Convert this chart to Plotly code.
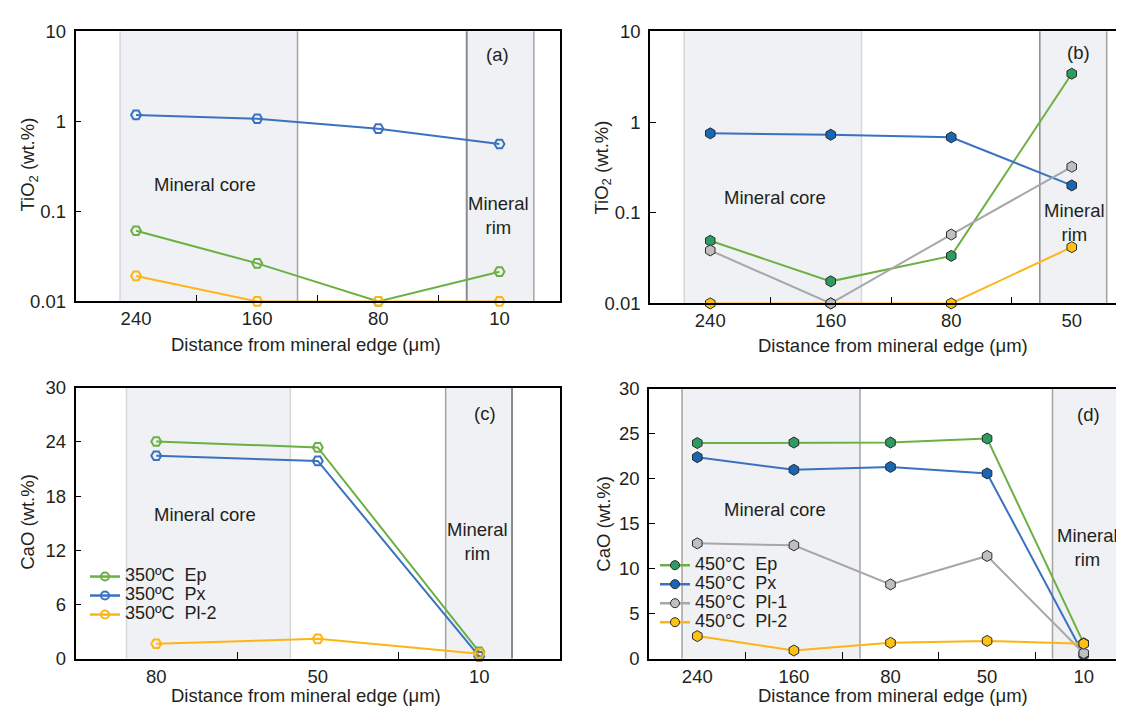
import plotly.graph_objects as go

# ---------------- data ----------------
cats_a = ["240", "160", "80", "10"]
a_ep = [0.061, 0.0265, 0.0100, 0.0214]
a_px = [1.18, 1.07, 0.83, 0.56]
a_pl2 = [0.0192, 0.0100, 0.0100, 0.0100]

cats_b = ["240", "160", "80", "50"]
b_ep = [0.049, 0.0175, 0.0334, 3.41]
b_px = [0.75, 0.724, 0.678, 0.20]
b_pl1 = [0.0384, 0.0100, 0.0574, 0.321]
b_pl2 = [0.0100, 0.0100, 0.0100, 0.0417]

cats_c = ["80", "50", "10"]
c_ep = [24.05, 23.4, 0.75]
c_px = [22.47, 21.9, 0.25]
c_pl2 = [1.65, 2.19, 0.55]

cats_d = ["240", "160", "80", "50", "10"]
d_ep = [23.94, 24.0, 24.0, 24.44, 1.7]
d_px = [22.37, 20.97, 21.29, 20.57, 0.43]
d_pl1 = [12.8, 12.58, 8.24, 11.4, 0.6]
d_pl2 = [2.5, 0.9, 1.76, 1.97, 1.65]

log_ticks = [0.01, 0.1, 1, 10]
log_ticktext = ["0.01", "0.1", "1", "10"]
lin_ticks_c = [0, 6, 12, 18, 24, 30]
lin_ticks_d = [0, 5, 10, 15, 20, 25, 30]

legend_c = ["350\u00baC\u00a0 Ep", "350\u00baC\u00a0 Px", "350\u00baC\u00a0 Pl-2"]
legend_d = ["450\u00b0C\u00a0 Ep", "450\u00b0C\u00a0 Px", "450\u00b0C\u00a0 Pl-1", "450\u00b0C\u00a0 Pl-2"]

# ---------------- styles ----------------
GREEN = "#6cb043"
BLUE = "#3a72c0"
YELLOW = "#fdb515"
GRAY = "#a7a7a7"
EP_FILL = "#2e9b63"
PX_FILL = "#1767b4"
PL1_FILL = "#bfbfbf"
PL2_FILL = "#ffc20e"
TXT = "#231f20"
FONT = "Liberation Sans, Arial, sans-serif"
FS = 18.5
LEG_FS = 12.3
W, H = 1124, 714

fig = go.Figure()


def open_trace(x, y, color, name, xa, ya):
    return go.Scatter(
        x=x, y=y, mode="lines+markers", name=name,
        line=dict(color=color, width=2),
        marker=dict(symbol="hexagon2-open", size=10, color=color,
                    line=dict(color=color, width=2)),
        xaxis=xa, yaxis=ya, cliponaxis=False, showlegend=False,
    )


def filled_trace(x, y, color, fill, name, xa, ya):
    return go.Scatter(
        x=x, y=y, mode="lines+markers", name=name,
        line=dict(color=color, width=2),
        marker=dict(symbol="hexagon", size=11, color=fill,
                    line=dict(color="#2a2a2a", width=1)),
        xaxis=xa, yaxis=ya, cliponaxis=False, showlegend=False,
    )


def legend_entry(name, color, fill, legend, xa, ya, open_marker):
    if open_marker:
        mk = dict(symbol="circle-open", size=8, color=color, line=dict(color=color, width=2))
    else:
        mk = dict(symbol="circle", size=9, color=fill, line=dict(color="#2a2a2a", width=1))
    return go.Scatter(
        x=[None], y=[None], mode="lines+markers",
        name='<span style="font-size:18px">' + name + "</span>",
        line=dict(color=color, width=2.5), marker=mk,
        xaxis=xa, yaxis=ya, showlegend=True, legend=legend, hoverinfo="skip",
    )


# (a)
fig.add_trace(open_trace(cats_a, a_ep, GREEN, "Ep", "x", "y"))
fig.add_trace(open_trace(cats_a, a_px, BLUE, "Px", "x", "y"))
fig.add_trace(open_trace(cats_a, a_pl2, YELLOW, "Pl-2", "x", "y"))
# (b)
fig.add_trace(filled_trace(cats_b, b_pl2, YELLOW, PL2_FILL, "Pl-2", "x2", "y2"))
fig.add_trace(filled_trace(cats_b, b_ep, GREEN, EP_FILL, "Ep", "x2", "y2"))
fig.add_trace(filled_trace(cats_b, b_px, BLUE, PX_FILL, "Px", "x2", "y2"))
fig.add_trace(filled_trace(cats_b, b_pl1, GRAY, PL1_FILL, "Pl-1", "x2", "y2"))
# (c)
fig.add_trace(open_trace(cats_c, c_ep, GREEN, legend_c[0], "x3", "y3"))
fig.add_trace(open_trace(cats_c, c_px, BLUE, legend_c[1], "x3", "y3"))
fig.add_trace(open_trace(cats_c, c_pl2, YELLOW, legend_c[2], "x3", "y3"))
# (d)
fig.add_trace(filled_trace(cats_d, d_ep, GREEN, EP_FILL, legend_d[0], "x4", "y4"))
fig.add_trace(filled_trace(cats_d, d_px, BLUE, PX_FILL, legend_d[1], "x4", "y4"))
fig.add_trace(filled_trace(cats_d, d_pl1, GRAY, PL1_FILL, legend_d[2], "x4", "y4"))
fig.add_trace(filled_trace(cats_d, d_pl2, YELLOW, PL2_FILL, legend_d[3], "x4", "y4"))

# legend entries (circle symbols as in the reference legends)
for nm, col in zip(legend_c, [GREEN, BLUE, YELLOW]):
    fig.add_trace(legend_entry(nm, col, None, "legend", "x3", "y3", True))
for nm, col, fl in zip(legend_d, [GREEN, BLUE, GRAY, YELLOW],
                       [EP_FILL, PX_FILL, PL1_FILL, PL2_FILL]):
    fig.add_trace(legend_entry(nm, col, fl, "legend2", "x4", "y4", False))


def px2x(p):
    return p / W


def px2y(p):
    return 1 - p / H


def xaxis(dom, cats, anchor):
    return dict(
        domain=dom, anchor=anchor, type="category",
        categoryorder="array", categoryarray=cats,
        range=[-0.5, len(cats) - 0.5],
        showline=True, linecolor="black", linewidth=1.5, mirror=True,
        ticks="inside", tickson="boundaries", ticklen=7, tickwidth=1.3,
        tickcolor="black", showgrid=False, zeroline=False,
        tickfont=dict(family=FONT, size=FS, color=TXT),
    )


def yaxis_log(dom, anchor, mirror):
    return dict(
        domain=dom, anchor=anchor, type="log", range=[-2, 1],
        tickvals=log_ticks, ticktext=log_ticktext,
        ticks="inside", ticklen=6, tickwidth=1.3, tickcolor="black",
        showline=True, linecolor="black", linewidth=1.5, mirror=mirror,
        showgrid=False, zeroline=False, ticklabelstandoff=4,
        tickfont=dict(family=FONT, size=FS, color=TXT),
    )


def yaxis_lin(dom, anchor, ticks, mirror):
    return dict(
        domain=dom, anchor=anchor, range=[0, 30],
        tickvals=ticks, ticks="inside", ticklen=6, tickwidth=1.3, tickcolor="black",
        showline=True, linecolor="black", linewidth=1.5, mirror=mirror,
        showgrid=False, zeroline=False, ticklabelstandoff=4,
        tickfont=dict(family=FONT, size=FS, color=TXT),
    )


xa_dom = [px2x(67.5), px2x(552)]
xb_dom = [px2x(642), 1.0]
xc_dom = [px2x(67.5), px2x(552)]
xd_dom = [px2x(641), 1.0]
ya_dom = [px2y(291), px2y(12.7)]
yb_dom = [px2y(293), px2y(12.7)]
yc_dom = [px2y(659), px2y(380)]
yd_dom = [px2y(659), px2y(380.7)]

shapes = []


def zone(xref, yref, x0, x1, lc0, lw0, lc1, lw1):
    shapes.append(dict(type="rect", xref=xref, yref=yref + " domain", x0=x0, x1=x1,
                       y0=0, y1=1, fillcolor="#eff1f4", line=dict(width=0), layer="below"))
    shapes.append(dict(type="line", xref=xref, yref=yref + " domain", x0=x0, x1=x0,
                       y0=0, y1=1, line=dict(color=lc0, width=lw0), layer="below"))
    shapes.append(dict(type="line", xref=xref, yref=yref + " domain", x0=x1, x1=x1,
                       y0=0, y1=1, line=dict(color=lc1, width=lw1), layer="below"))


LIGHT = "#d6d7d9"
MID = "#a3a3a3"
DARK = "#8a8a8a"
zone("x", "y", -0.132, 1.333, LIGHT, 1.5, MID, 1.5)
zone("x", "y", 2.73, 3.284, DARK, 2, MID, 1.5)
zone("x2", "y2", -0.216, 1.255, LIGHT, 1.5, LIGHT, 1.5)
zone("x2", "y2", 2.735, 3.29, DARK, 1.5, MID, 1.5)
zone("x3", "y3", -0.184, 0.83, LIGHT, 1.5, LIGHT, 1.5)
zone("x3", "y3", 1.792, 2.203, MID, 1.5, DARK, 2)
zone("x4", "y4", -0.158, 1.684, MID, 1.5, MID, 1.5)
zone("x4", "y4", 3.677, 4.366, MID, 1.5, MID, 1.5)

ann = []


def text(x, y, s, angle=0, xanchor="center"):
    ann.append(dict(x=px2x(x), y=px2y(y), xref="paper", yref="paper", text=s,
                    showarrow=False, textangle=angle, xanchor=xanchor, yanchor="middle",
                    font=dict(family=FONT, size=FS, color=TXT)))


# panel letters
text(489, 37, "(a)")
text(1070, 35, "(b)")
text(477, 406, "(c)")
text(1080, 407, "(d)")
# zone labels
text(197, 170, "Mineral core")
text(490, 202, "Mineral<br>rim")
text(767, 184, "Mineral core")
text(1066, 210, "Mineral<br>rim")
text(197, 511, "Mineral core")
text(469, 538, "Mineral<br>rim")
text(767, 505, "Mineral core")
text(1079, 544, "Mineral<br>rim")
# axis titles
xt = "Distance from mineral edge (\u03bcm)"
text(298, 335, xt)
text(885, 336, xt)
text(298, 697, xt)
text(885, 697, xt)
text(21, 150, "TiO<sub>2</sub> (wt.%)", angle=-90)
text(594, 153, "TiO<sub>2</sub> (wt.%)", angle=-90)
text(20, 518, "CaO (wt.%)", angle=-90)
text(596, 520, "CaO (wt.%)", angle=-90)

fig.update_layout(
    width=W, height=H, margin=dict(l=0, r=0, t=0, b=0),
    paper_bgcolor="white", plot_bgcolor="rgba(0,0,0,0)",
    font=dict(family=FONT, size=FS, color=TXT),
    xaxis=xaxis(xa_dom, cats_a, "y"),
    xaxis2=xaxis(xb_dom, cats_b, "y2"),
    xaxis3=xaxis(xc_dom, cats_c, "y3"),
    xaxis4=xaxis(xd_dom, cats_d, "y4"),
    yaxis=yaxis_log(ya_dom, "x", True),
    yaxis2=yaxis_log(yb_dom, "x2", False),
    yaxis3=yaxis_lin(yc_dom, "x3", lin_ticks_c, True),
    yaxis4=yaxis_lin(yd_dom, "x4", lin_ticks_d, False),
    shapes=shapes, annotations=ann,
    legend=dict(x=px2x(77), y=px2y(559.5), xanchor="left", yanchor="top",
                bgcolor="rgba(0,0,0,0)", borderwidth=0,
                font=dict(family=FONT, size=LEG_FS, color=TXT), itemwidth=30),
    legend2=dict(x=px2x(647), y=px2y(547.8), xanchor="left", yanchor="top",
                 bgcolor="rgba(0,0,0,0)", borderwidth=0,
                 font=dict(family=FONT, size=LEG_FS, color=TXT), itemwidth=30),
)

fig.write_html("out.html")
